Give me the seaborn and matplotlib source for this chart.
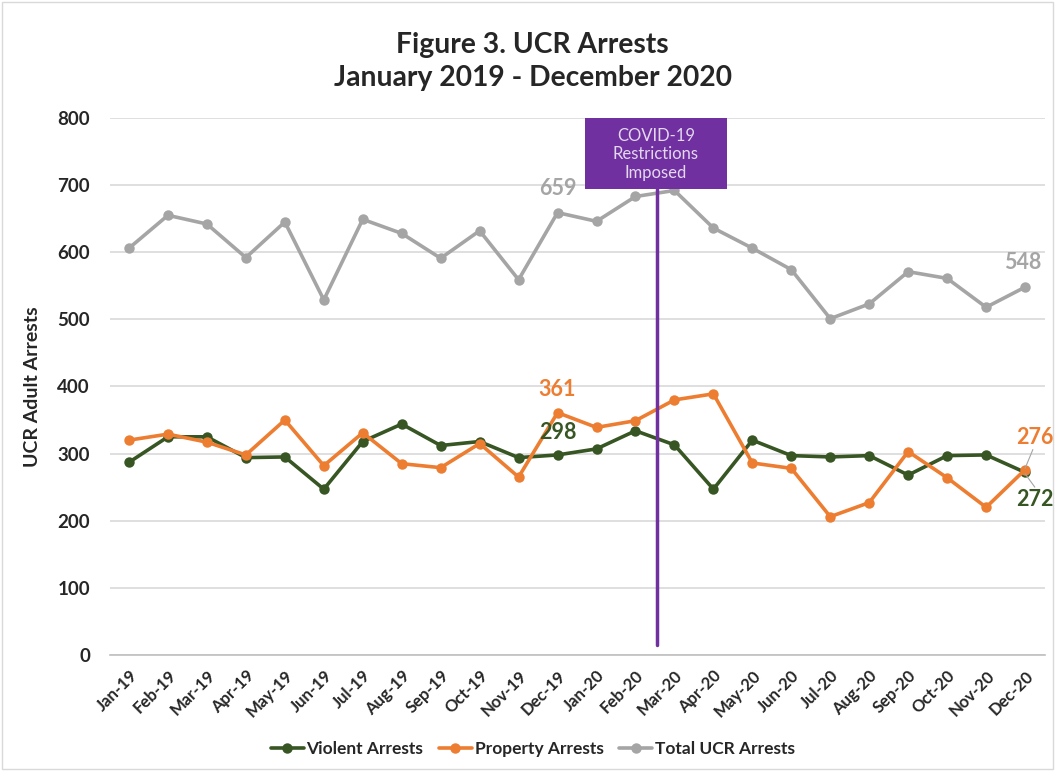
import matplotlib
matplotlib.use("Agg")
import matplotlib.pyplot as plt
from matplotlib.patches import Rectangle
import seaborn as sns
import pandas as pd

months = ["Jan-19", "Feb-19", "Mar-19", "Apr-19", "May-19", "Jun-19", "Jul-19", "Aug-19",
          "Sep-19", "Oct-19", "Nov-19", "Dec-19", "Jan-20", "Feb-20", "Mar-20", "Apr-20",
          "May-20", "Jun-20", "Jul-20", "Aug-20", "Sep-20", "Oct-20", "Nov-20", "Dec-20"]
violent = [287, 325, 325, 294, 295, 247, 318, 344, 312, 318, 294, 298,
           307, 334, 313, 247, 320, 297, 295, 297, 268, 297, 298, 272]
property_ = [320, 329, 317, 298, 350, 282, 331, 285, 279, 315, 265, 361,
             339, 349, 380, 389, 286, 278, 206, 227, 303, 264, 220, 276]
total = [606, 655, 642, 592, 645, 529, 649, 628, 591, 632, 559, 659,
         646, 683, 692, 636, 606, 574, 501, 523, 571, 561, 518, 548]

series_names = ["Violent Arrests", "Property Arrests", "Total UCR Arrests"]
colors = {"Violent Arrests": "#375623", "Property Arrests": "#ED7D31", "Total UCR Arrests": "#A5A5A5"}

df = pd.DataFrame({"idx": list(range(len(months))) * 3,
                   "value": violent + property_ + total,
                   "series": [s for s in series_names for _ in months]})

sns.set_style("white")
plt.rcParams['font.family'] = ['Lato', 'DejaVu Sans']

fig = plt.figure(figsize=(10.55, 7.71), dpi=100)
ax = fig.add_axes([0.1038, 0.1505, 0.8863, 0.6965])

sns.lineplot(data=df, x="idx", y="value", hue="series", hue_order=series_names,
             palette=colors, marker="o", markersize=7.5, markeredgewidth=0,
             linewidth=2.6, ax=ax, legend=True)

ax.set_xlim(-0.5, len(months) - 0.5)
ax.set_ylim(0, 800)
ax.set_yticks(range(0, 801, 100))
ax.set_yticklabels([str(v) for v in range(0, 801, 100)], fontsize=13.5, fontweight="bold")
ax.set_xticks(range(len(months)))
ax.set_xticklabels(months, rotation=45, ha="right", rotation_mode="anchor",
                   fontsize=12, fontweight="bold")
ax.set_xticks([i - 0.5 for i in range(len(months) + 1)], minor=True)
ax.tick_params(axis="x", which="major", length=0, pad=9)
ax.tick_params(axis="x", which="minor", length=6, color="#bfbfbf", width=1)
ax.tick_params(axis="y", length=0, pad=14)
ax.grid(axis="y", color="#d9d9d9", linewidth=1.2)
ax.set_axisbelow(True)
for s in ["top", "right", "left"]:
    ax.spines[s].set_visible(False)
ax.spines["bottom"].set_color("#bfbfbf")
ax.spines["bottom"].set_linewidth(1.2)
ax.set_xlabel("")
ax.set_ylabel("UCR Adult Arrests", fontsize=14, fontweight="bold", labelpad=12)

# COVID marker
ax.add_patch(Rectangle((11.7, 694.5), 3.65, 105.5, facecolor="#7030A0", edgecolor="none",
                       zorder=5, clip_on=False))
ax.text(13.525, 746, "COVID-19\nRestrictions\nImposed", ha="center", va="center",
        color="#e4d8f0", fontsize=12, linespacing=1.2, zorder=6)
ax.plot([13.55, 13.55], [15, 694.5], color="#7030A0", linewidth=2.5, zorder=4)

# data labels
lbl = dict(fontsize=15.5, fontweight="bold")
ax.text(11.0, 695, "659", ha="center", va="center", color="#A5A5A5", **lbl)
ax.text(22.95, 585, "548", ha="center", va="center", color="#A5A5A5", **lbl)
ax.text(11.0, 395, "361", ha="center", va="center", color="#ED7D31", **lbl)
ax.text(11.0, 332, "298", ha="center", va="center", color="#375623", **lbl)
ax.text(23.25, 324, "276", ha="center", va="center", color="#ED7D31", **lbl)
ax.text(23.25, 232, "272", ha="center", va="center", color="#375623", **lbl)
ax.plot([23.2, 23.0], [306, 278], color="#A5A5A5", linewidth=0.8, zorder=6)
ax.plot([23.0, 23.25], [270, 250], color="#A5A5A5", linewidth=0.8, zorder=6)

leg = ax.legend(loc="center", bbox_to_anchor=(0.505, 0.0285), bbox_transform=fig.transFigure,
                ncol=3, frameon=False, prop={"weight": "bold", "size": 12.5},
                handlelength=1.9, columnspacing=0.9, handletextpad=0.15)

fig.suptitle("Figure 3. UCR Arrests\nJanuary 2019 - December 2020", y=0.958,
             x=0.505, fontsize=20.3, fontweight="bold", linespacing=1.3)

fig.patches.append(Rectangle((0.002, 0.002), 0.996, 0.996, transform=fig.transFigure,
                             fill=False, edgecolor="#d9d9d9", linewidth=1))

fig.savefig("out.png", dpi=100)
